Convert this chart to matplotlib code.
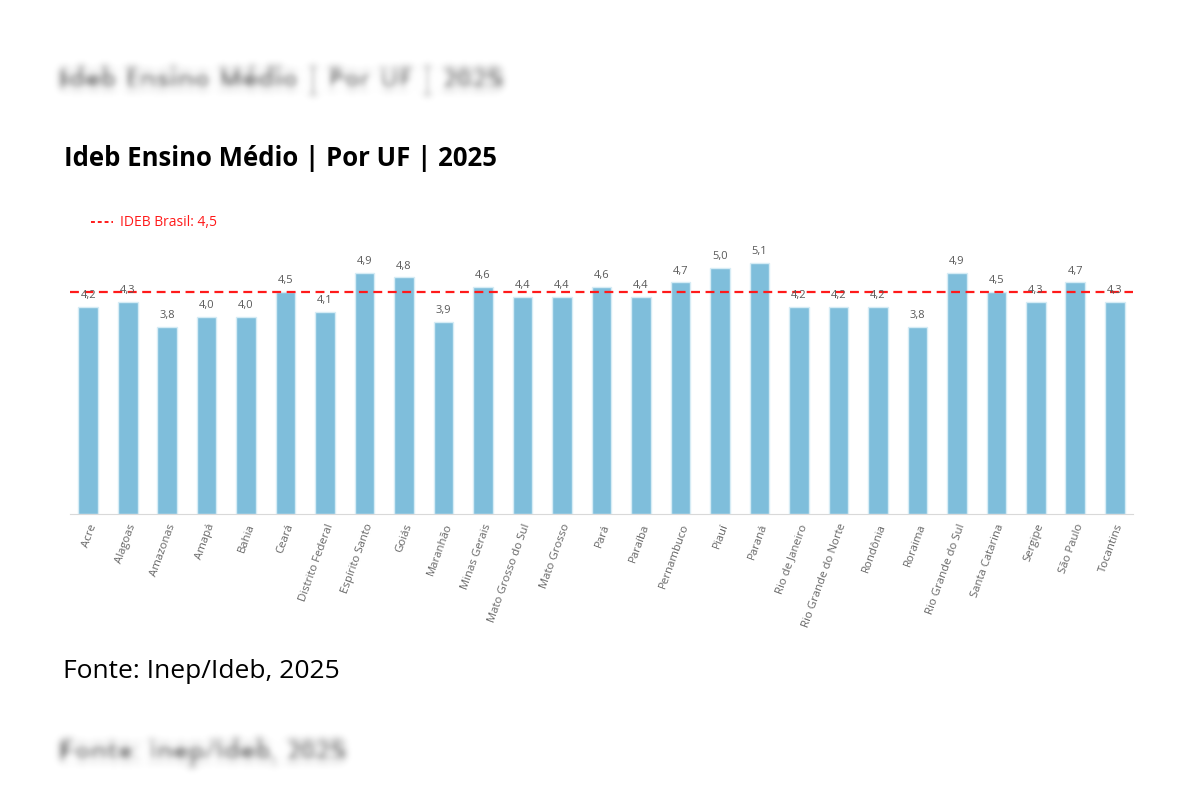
import numpy as np
import matplotlib
matplotlib.use("Agg")
import matplotlib.pyplot as plt
from matplotlib.lines import Line2D

plt.rcParams["font.family"] = ["Open Sans", "DejaVu Sans"]

ufs = ["Acre", "Alagoas", "Amazonas", "Amapá", "Bahia", "Ceará", "Distrito Federal",
       "Espírito Santo", "Goiás", "Maranhão", "Minas Gerais", "Mato Grosso do Sul",
       "Mato Grosso", "Pará", "Paraíba", "Pernambuco", "Piauí", "Paraná",
       "Rio de Janeiro", "Rio Grande do Norte", "Rondônia", "Roraima",
       "Rio Grande do Sul", "Santa Catarina", "Sergipe", "São Paulo", "Tocantins"]
ideb = [4.2, 4.3, 3.8, 4.0, 4.0, 4.5, 4.1, 4.9, 4.8, 3.9, 4.6, 4.4, 4.4, 4.6,
        4.4, 4.7, 5.0, 5.1, 4.2, 4.2, 4.2, 3.8, 4.9, 4.5, 4.3, 4.7, 4.3]
ideb_brasil = 4.5

titulo = "Ideb Ensino Médio | Por UF | 2025"
fonte = "Fonte: Inep/Ideb, 2025"


def blur(sigma):
    # filtro gaussiano simples para imitar o texto desfocado
    def f(img, dpi):
        pad = int(3 * sigma)
        img = np.pad(img, ((pad, pad), (pad, pad), (0, 0)))
        x = np.arange(-pad, pad + 1)
        k = np.exp(-x ** 2 / (2 * sigma ** 2))
        k /= k.sum()
        for ax_ in (0, 1):
            img = np.apply_along_axis(lambda m: np.convolve(m, k, mode="same"), ax_, img)
        return img, -pad, -pad
    return f


fig = plt.figure(figsize=(12, 8), dpi=100)
ax = fig.add_axes([70 / 1200, 1 - 514 / 800, 1063 / 1200, 271 / 800])

x = np.arange(len(ufs))
ax.bar(x, ideb, width=0.5, color="#7fbedb", edgecolor="#d6ecf5", linewidth=1)
for xi, v in zip(x, ideb):
    ax.text(xi, v + 0.12, f"{v:.1f}".replace(".", ","), ha="center", va="bottom",
            fontsize=8, color="#595959")

ax.axhline(ideb_brasil, color="#ff1a1a", linestyle=(0, (4, 2.5)), linewidth=1.6)

ax.set_xlim(-0.46, len(ufs) - 0.54)
ax.set_ylim(0, 5.5)
ax.set_yticks([])
ax.set_xticks(x)
ax.set_xticklabels(ufs, rotation=70, ha="right", rotation_mode="anchor",
                   fontsize=8.2, color="#666666")
ax.tick_params(axis="x", length=0, pad=6)
for s in ["top", "right", "left"]:
    ax.spines[s].set_visible(False)
ax.spines["bottom"].set_color("#d9d9d9")

handle = Line2D([0], [0], color="#ff1a1a", linestyle=(0, (2, 1.5)), linewidth=1.4)
fig.legend([handle], [f"IDEB Brasil: {ideb_brasil:.1f}".replace(".", ",")],
           loc="upper left", bbox_to_anchor=(78 / 1200, 1 - 203 / 800), frameon=False,
           fontsize=10, labelcolor="#ff1a1a", handlelength=1.6, handletextpad=0.5)

fig.text(64 / 1200, 1 - 158 / 800, titulo, fontsize=18.5, fontweight="bold",
         va="center", ha="left")
fig.text(63 / 1200, 1 - 672 / 800, fonte, fontsize=19, va="center", ha="left")

t1 = fig.text(60 / 1200, 1 - 80 / 800, titulo, fontsize=19, fontweight="bold",
              color="#3c3c3c", va="center", ha="left")
t1.set_agg_filter(blur(4))
t2 = fig.text(60 / 1200, 1 - 752 / 800, fonte, fontsize=18.5, fontweight="bold",
              color="#3c3c3c", va="center", ha="left")
t2.set_agg_filter(blur(4))

fig.savefig("out.png", dpi=100, facecolor="white")
